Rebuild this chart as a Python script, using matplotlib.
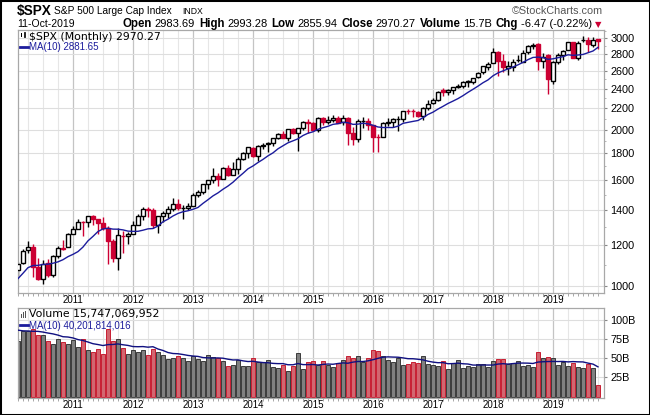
import numpy as np
import pandas as pd
import matplotlib
matplotlib.use("Agg")
import matplotlib.pyplot as plt
from matplotlib.patches import Rectangle
from matplotlib.lines import Line2D
from matplotlib.ticker import FixedLocator, NullFormatter

W, H = 650, 415

# monthly candles, Feb 2010 .. Oct 2019
months = pd.period_range("2010-02", "2019-10", freq="M")

opens = [
    1073.9, 1105.4, 1171.2, 1188.6, 1087.3, 1031.1, 1107.5, 1049.7, 1143.5, 1185.7, 1186.6,
    1257.6, 1289.1, 1328.6, 1329.5, 1365.2, 1345.2, 1320.6, 1292.6, 1219.1, 1131.2, 1251.0, 1246.9,
    1258.9, 1312.5, 1365.9, 1408.5, 1398.0, 1309.9, 1362.3, 1379.3, 1406.5, 1440.9, 1412.2, 1416.3,
    1426.2, 1498.1, 1514.7, 1569.2, 1597.6, 1631.7, 1609.8, 1690.0, 1636.0, 1682.4, 1758.7, 1806.6,
    1845.9, 1782.7, 1857.7, 1874.0, 1884.4, 1923.9, 1962.3, 1929.8, 2004.1, 1971.4, 2018.2, 2065.8,
    2058.9, 1996.7, 2105.2, 2067.6, 2087.4, 2108.6, 2067.0, 2104.5, 1970.1, 1919.7, 2080.8, 2082.9,
    2038.2, 1936.9, 1937.1, 2056.6, 2067.2, 2093.9, 2099.3, 2173.2, 2171.3, 2164.3, 2128.7, 2200.2,
    2251.6, 2285.6, 2380.1, 2362.3, 2388.5, 2415.6, 2431.4, 2477.1, 2474.4, 2521.2, 2583.2, 2645.1,
    2683.7, 2816.5, 2715.2, 2633.5, 2643.0, 2718.7, 2705.0, 2821.2, 2901.6, 2926.3, 2717.6, 2790.5,
    2477.0, 2702.3, 2780.7, 2848.6, 2952.3, 2751.5, 2971.4, 2980.3, 2909.0, 2983.69,
]
highs = [
    1112.4, 1180.7, 1219.8, 1205.1, 1131.2, 1120.9, 1129.2, 1148.9, 1196.1, 1227.1, 1262.6,
    1302.7, 1344.1, 1332.3, 1366.0, 1370.6, 1345.2, 1356.5, 1307.4, 1229.3, 1292.7, 1277.6, 1269.4,
    1333.5, 1378.0, 1419.2, 1422.4, 1415.3, 1363.5, 1391.7, 1426.7, 1474.5, 1471.0, 1434.3, 1448.0,
    1509.9, 1530.9, 1570.3, 1597.6, 1687.2, 1654.2, 1698.8, 1709.7, 1729.9, 1775.2, 1813.6, 1849.4,
    1850.8, 1867.9, 1884.0, 1897.3, 1924.0, 1968.2, 1991.4, 2005.0, 2019.3, 2018.2, 2075.8, 2093.6,
    2072.4, 2119.6, 2117.5, 2125.9, 2134.7, 2129.9, 2132.8, 2112.7, 2020.9, 2094.3, 2116.5, 2104.3,
    2038.2, 1963.0, 2072.2, 2111.1, 2103.5, 2120.6, 2177.1, 2193.8, 2187.9, 2169.6, 2214.1, 2277.5,
    2301.0, 2371.5, 2401.0, 2398.2, 2418.7, 2453.8, 2484.0, 2490.9, 2519.4, 2583.0, 2657.7, 2695.0,
    2872.9, 2836.0, 2801.9, 2717.5, 2742.2, 2791.5, 2848.0, 2916.5, 2940.9, 2939.9, 2815.2, 2800.2,
    2709.0, 2813.5, 2852.4, 2949.5, 2954.1, 2964.2, 3028.0, 3013.6, 3022.0, 2993.28,
]
lows = [
    1044.5, 1101.0, 1157.0, 1040.8, 1028.3, 1010.9, 1039.7, 1039.7, 1131.9, 1173.0, 1186.6,
    1257.6, 1289.1, 1249.1, 1299.0, 1311.8, 1258.1, 1282.9, 1101.5, 1114.2, 1074.8, 1158.7, 1202.4,
    1258.9, 1312.5, 1340.0, 1357.4, 1292.0, 1266.7, 1325.4, 1354.7, 1396.6, 1403.3, 1343.4, 1398.1,
    1426.2, 1485.0, 1501.5, 1536.0, 1581.3, 1560.3, 1604.6, 1627.5, 1633.4, 1646.5, 1746.2, 1768.0,
    1770.5, 1737.9, 1834.4, 1814.4, 1859.8, 1916.0, 1930.7, 1904.8, 1964.0, 1820.7, 2001.0, 1972.6,
    1988.1, 1980.9, 2039.7, 2048.4, 2067.9, 2056.3, 2044.0, 1867.0, 1871.9, 1893.7, 2019.4, 1993.3,
    1812.3, 1810.1, 1937.1, 2033.8, 2025.9, 1991.7, 2074.0, 2147.6, 2119.1, 2114.7, 2083.8, 2187.4,
    2245.1, 2271.7, 2322.3, 2329.0, 2344.0, 2405.7, 2407.7, 2417.4, 2446.6, 2520.4, 2557.5, 2605.5,
    2682.4, 2532.7, 2585.9, 2553.8, 2594.6, 2698.7, 2699.0, 2796.3, 2864.1, 2603.5, 2631.1, 2346.6,
    2444.0, 2681.8, 2722.3, 2848.6, 2750.5, 2728.8, 2952.2, 2822.1, 2891.9, 2855.94,
]
closes = [
    1104.5, 1169.4, 1186.7, 1089.4, 1030.7, 1101.6, 1049.3, 1141.2, 1183.3, 1180.6, 1257.6,
    1286.1, 1327.2, 1325.8, 1363.6, 1345.2, 1320.6, 1292.3, 1219.0, 1131.4, 1253.3, 1247.0, 1257.6,
    1312.4, 1365.7, 1408.5, 1397.9, 1310.3, 1362.2, 1379.3, 1406.6, 1440.7, 1412.2, 1416.2, 1426.2,
    1498.1, 1514.7, 1569.2, 1597.6, 1630.7, 1606.3, 1685.7, 1633.0, 1681.6, 1756.5, 1805.8, 1848.4,
    1782.6, 1859.5, 1872.3, 1884.0, 1923.6, 1960.2, 1930.7, 2003.4, 1972.3, 2018.1, 2067.6, 2058.9,
    1995.0, 2104.5, 2067.9, 2085.5, 2107.4, 2063.1, 2103.8, 1972.2, 1920.0, 2079.4, 2080.4, 2043.9,
    1940.2, 1932.2, 2059.7, 2065.3, 2097.0, 2098.9, 2173.6, 2171.0, 2168.3, 2126.2, 2199.0, 2238.8,
    2278.9, 2363.6, 2362.7, 2384.2, 2411.8, 2423.4, 2470.3, 2471.7, 2519.4, 2575.3, 2647.6, 2673.6,
    2823.8, 2713.8, 2640.9, 2648.1, 2705.3, 2718.4, 2816.3, 2901.5, 2914.0, 2711.7, 2760.2, 2506.9,
    2704.1, 2784.5, 2834.4, 2945.8, 2752.1, 2941.8, 2980.4, 2926.5, 2976.7, 2970.27,
]
# monthly volume in billions
volume_b = [
    73, 86, 86, 88, 81, 81, 73, 69, 76, 71, 69,
    74, 64.5, 76, 61, 59, 62, 56, 88, 73, 76, 63, 56,
    61, 59, 61, 54, 62, 58, 54, 49, 50, 53, 51, 47,
    53, 49, 47, 54, 52, 50, 46.5, 40, 41, 48.5, 40, 40,
    50, 44.7, 44.7, 47.8, 38.1, 36.8, 41.2, 33.3, 40, 56.5, 35.5, 44.7,
    46, 41.2, 46, 42, 38.1, 43.4, 47.4, 52.6, 50, 53, 45.5, 50,
    61, 59.6, 53, 47.8, 44.7, 50.9, 41.2, 42.5, 44.7, 43.4, 52.6, 42.5,
    41.2, 40, 46, 36, 43.4, 47.8, 36.8, 40, 39, 42.5, 42.5, 39,
    46, 48.6, 48.6, 42.5, 43.4, 46, 40, 41.2, 38.1, 57.8, 50, 51.3,
    50, 41.2, 44.7, 40, 43.8, 38.1, 36.8, 42.5, 36.8, 15.7,
]
# the nine months before the first candle, only used to start the MA(10) lines
prior_closes = [919.1, 919.3, 987.5, 1020.6, 1057.1, 1036.2, 1095.6, 1115.1, 1073.9]
prior_volume_b = [95, 88, 92, 82, 90, 86, 80, 92, 92]

price_ticks = [1000, 1200, 1400, 1600, 1800, 2000, 2200, 2400, 2600, 2800, 3000]
volume_ticks = [25, 50, 75, 100]
volume_tick_labels = ["25B", "50B", "75B", "100B"]

RED = "#cc0033"
NAVY = "#1c1c9c"

o = np.array(opens); h = np.array(highs); l = np.array(lows); c = np.array(closes)
v = np.array(volume_b)
x = np.arange(len(months))
prev_c = np.concatenate([[prior_closes[-1]], c[:-1]])
down = c < prev_c
ma_price = pd.Series(prior_closes + closes).rolling(10).mean().to_numpy()[len(prior_closes):]
ma_vol = pd.Series(prior_volume_b + volume_b).rolling(10).mean().to_numpy()[len(prior_volume_b):]

plt.rcParams["font.family"] = ["Liberation Sans", "DejaVu Sans"]
fig = plt.figure(figsize=(W / 100, H / 100), dpi=100)


def box(x0, y0, x1, y1):
    # pixel box (top-left origin) -> axes rect
    return [x0 / W, 1 - y1 / H, (x1 - x0) / W, (y1 - y0) / H]


ax = fig.add_axes(box(17.7, 30, 604, 292.5))
axv = fig.add_axes(box(17.7, 308, 604, 397.5))

jan = [i for i, m in enumerate(months) if m.month == 1]
quarters = [i for i, m in enumerate(months) if m.month in (4, 7, 10)]

for a in (ax, axv):
    a.set_xlim(-0.05, 117.2)
    for q in quarters:
        a.axvline(q, color="#e6e6e6", lw=0.8, zorder=0)
    for j in jan:
        a.axvline(j, color="#c4c4c4", lw=0.9, zorder=0)
    a.xaxis.set_major_locator(FixedLocator(jan))
    a.set_xticklabels([str(months[j].year) for j in jan], fontsize=7)
    a.xaxis.set_minor_locator(FixedLocator(x))
    a.tick_params(axis="x", which="major", length=0, pad=1.5)
    a.tick_params(axis="x", which="minor", length=2, color="#999999")
    a.yaxis.tick_right()
    a.tick_params(axis="y", which="major", length=2.5, pad=2, labelsize=7.8, color="#888888")
    for s in a.spines.values():
        s.set_color("#a8a8a8")
        s.set_linewidth(0.9)

# price panel
ax.set_yscale("log")
ax.set_ylim(971.6, 3112)
for t in price_ticks:
    ax.axhline(t, color="#dedede", lw=0.8, zorder=0)
ax.yaxis.set_major_locator(FixedLocator(price_ticks))
ax.set_yticklabels([str(t) for t in price_ticks])
ax.yaxis.set_minor_locator(FixedLocator(np.arange(1000, 3101, 100)))
ax.yaxis.set_minor_formatter(NullFormatter())
ax.tick_params(axis="y", which="minor", length=1.5, color="#aaaaaa")

edge = np.where(down, RED, "black")
ax.vlines(x, l, h, colors=edge, lw=1.0, zorder=2)
hollow = c >= o
face = np.where(hollow, "white", edge)
bottom = np.minimum(o, c)
height = np.maximum(np.abs(c - o), 1.5)
ax.bar(x, height, bottom=bottom, width=0.7, color=face, edgecolor=edge,
       linewidth=1.0, zorder=3)
ax.plot(x, ma_price, color=NAVY, lw=1.0, zorder=4)

# volume panel
axv.set_ylim(-1.2, 116)
for t in volume_ticks:
    axv.axhline(t, color="#dedede", lw=0.8, zorder=0)
axv.yaxis.set_major_locator(FixedLocator(volume_ticks))
axv.set_yticklabels(volume_tick_labels)
vface = np.where(down, "#d26670", "#808080")
vedge = np.where(down, "#c81e32", "#3a3a3a")
axv.bar(x, v, width=0.9, color=vface, edgecolor=vedge, linewidth=0.7, zorder=2)
axv.plot(x, ma_vol, color="#101080", lw=1.0, zorder=4)


def put(px, py, s, **kw):
    return fig.text(px / W, 1 - py / H, s, va="baseline", **kw)


renderer = fig.canvas.get_renderer()

# header
put(17, 14.5, "$SPX", fontsize=9.8, weight="bold")
put(54, 14.5, "S&P 500 Large Cap Index", fontsize=7.3)
put(182, 14.5, "INDX", fontsize=6.2)
put(603, 14.5, "\u00a9StockCharts.com", fontsize=7.8, color="#555555", ha="right")
put(17, 26.7, "11-Oct-2019", fontsize=7.5)
px = 122.7
for lab, val in [("Open", "2983.69"), ("High", "2993.28"), ("Low", "2855.94"),
                 ("Close", "2970.27"), ("Volume", "15.7B"), ("Chg", "-6.47 (-0.22%)")]:
    t = put(px, 26.7, lab, fontsize=8.3, weight="bold")
    px += t.get_window_extent(renderer).width + 2.5
    t = put(px, 26.7, val, fontsize=8.0)
    px += t.get_window_extent(renderer).width + 4.2
put(px - 1.5, 26.7, "\u25bc", fontsize=6, color=RED, family=["DejaVu Sans"])

# legends
put(29, 39.5, "$SPX (Monthly) 2970.27", fontsize=7.8, family=["DejaVu Sans"])
put(29, 50.5, "MA(10) 2881.65", fontsize=7, color=NAVY)
put(29, 317.5, "Volume 15,747,069,952", fontsize=7.8, family=["DejaVu Sans"])
put(29, 328.5, "MA(10) 40,201,814,016", fontsize=7, color=NAVY)


def rect(x0, y0, w, hh, **kw):
    fig.add_artist(Rectangle((x0 / W, 1 - (y0 + hh) / H), w / W, hh / H,
                             transform=fig.transFigure, **kw))


# tiny legend glyphs
rect(20.5, 33.5, 1.6, 4, facecolor="black", edgecolor="none")
rect(23.5, 32.5, 1.6, 5, facecolor="white", edgecolor="black", lw=0.6)
for k, hh in enumerate([4, 6, 7]):
    rect(20.5 + 2.2 * k, 317.5 - hh, 1.6, hh, facecolor="#555555", edgecolor="none")
for yy in (47, 325):
    fig.add_artist(Line2D([20 / W, 27.5 / W], [1 - yy / H, 1 - yy / H],
                          transform=fig.transFigure, color=NAVY, lw=2))

fig.add_artist(Rectangle((0, 0), 1, 1, transform=fig.transFigure, fill=False,
                         edgecolor="black", lw=2.2))

fig.savefig("out.png", dpi=100)
